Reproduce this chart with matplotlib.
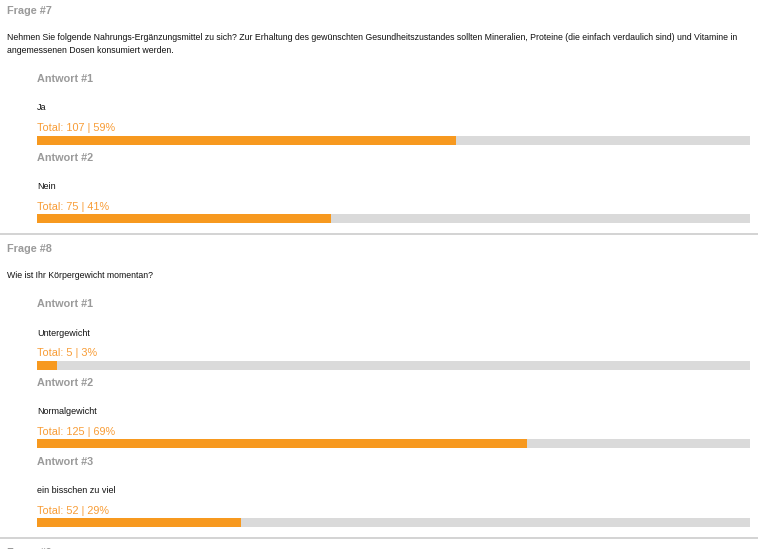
import matplotlib
matplotlib.use("Agg")
import matplotlib.pyplot as plt

# survey data
frage_titles = ["Frage #7", "Frage #8"]
frage_texts = [
    "Nehmen Sie folgende Nahrungs-Ergänzungsmittel zu sich? Zur Erhaltung des gewünschten Gesundheitszustandes sollten Mineralien, Proteine (die einfach verdaulich sind) und Vitamine in\nangemessenen Dosen konsumiert werden.",
    "Wie ist Ihr Körpergewicht momentan?",
]
antworten_7 = ["Ja", "Nein"]
totals_7 = [107, 75]
antworten_8 = ["Untergewicht", "Normalgewicht", "ein bisschen zu viel"]
totals_8 = [5, 125, 52]
next_title = "Frage #9"

W, H = 758, 549
ORANGE = "#f7991f"
ORANGE_TXT = "#f89c35"
GREY_BAR = "#dadada"
GREY_HEAD = "#9a9a9a"
FONT = "Liberation Sans"

fig = plt.figure(figsize=(W / 100, H / 100), dpi=100)
fig.patch.set_facecolor("white")


def fy(y):
    return 1 - y / H


def txt(x, y, s, **kw):
    fig.text(x / W, fy(y + 1.5), s, va="center", ha="left", family=FONT, **kw)


def sep(y):
    fig.add_artist(plt.Line2D([0, 1], [fy(y), fy(y)], color="#cccccc", lw=1.2))


y = 10
blocks = [(antworten_7, totals_7), (antworten_8, totals_8)]
for title, qtext, (labels, counts) in zip(frage_titles, frage_texts, blocks):
    txt(7, y, title, color=GREY_HEAD, fontsize=7.8, fontweight="bold")
    y += 28.5
    nlines = qtext.count("\n") + 1
    fig.text(7 / W, fy(y - 5), qtext, va="top", ha="left", family=FONT,
             fontsize=6.35, color="#111111", linespacing=1.45)
    y += 12 * (nlines - 1) + 27
    total = sum(counts)
    for i, (lab, n) in enumerate(zip(labels, counts)):
        share = n / total * 100
        txt(37, y, f"Antwort #{i + 1}", color=GREY_HEAD, fontsize=7.8, fontweight="bold")
        txt(37, y + 29, lab, fontsize=6.5, color="#111111")
        txt(37, y + 49, f"Total: {n} | {share:.0f}%", fontsize=7.8, color=ORANGE_TXT)
        ax = fig.add_axes([37 / W, fy(y + 67), 713 / W, 9 / H])
        ax.barh([0], [100], height=1, color=GREY_BAR)
        ax.barh([0], [share], height=1, color=ORANGE)
        ax.set_xlim(0, 100)
        ax.set_ylim(-0.5, 0.5)
        ax.axis("off")
        y += 78.7
    y = y - 78.7 + 78
    sep(y)
    y += 13

txt(7, y, next_title, color=GREY_HEAD, fontsize=7.8, fontweight="bold")

fig.savefig("out.png", dpi=100)
